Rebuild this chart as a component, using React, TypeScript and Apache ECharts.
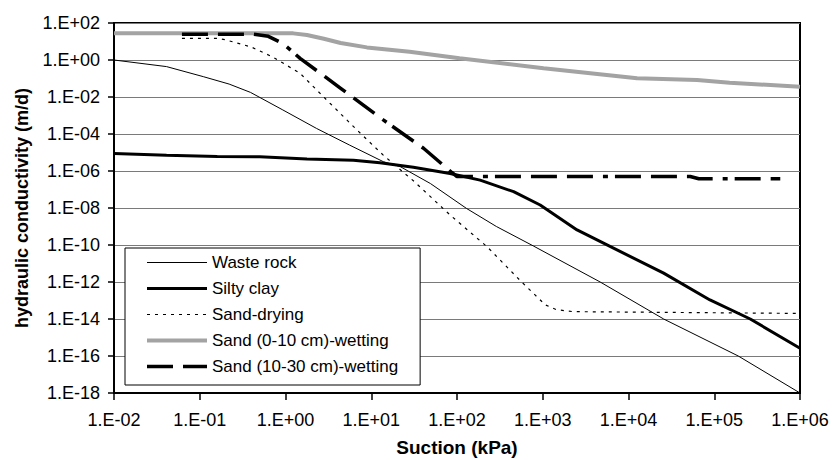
import React, { useEffect, useRef } from "react";
import * as echarts from "echarts";

// Suction (kPa) and hydraulic conductivity (m/d) for each material
const wasteRockSuction = [0.01, 0.041, 0.11, 0.22, 0.39, 0.93, 2.3, 5.6, 13.8, 21.9, 49, 129, 288, 776, 4677, 25704, 190546, 1e6];
const wasteRockK = [1, 0.44, 0.126, 0.05, 0.0178, 2.0e-3, 2.0e-4, 2.5e-5, 3.2e-6, 1.7e-6, 2.1e-7, 9.5e-9, 1.0e-9, 8.9e-11, 1.0e-12, 1.0e-14, 1.0e-16, 1.0e-18];

const siltyClaySuction = [0.01, 0.041, 0.16, 0.5, 1.78, 6.2, 12.6, 31, 83, 186, 457, 933, 2512, 25704, 89125, 263027, 1e6];
const siltyClayK = [8.9e-6, 7.2e-6, 6.0e-6, 5.9e-6, 4.5e-6, 3.8e-6, 2.8e-6, 1.6e-6, 7.4e-7, 3.2e-7, 7.6e-8, 1.45e-8, 6.5e-10, 3.0e-12, 1.07e-13, 1.0e-14, 2.6e-16];

const sandDryingSuction = [0.062, 0.166, 0.204, 0.4, 0.72, 1.48, 3.3, 6.8, 13.8, 32, 83, 224, 562, 813, 1072, 1445, 2239, 1e6];
const sandDryingK = [14.8, 14.8, 12.0, 5.0, 1.41, 0.19, 4.6e-3, 1.66e-4, 7.2e-6, 2.6e-7, 4.2e-9, 8.1e-11, 1.05e-12, 2.0e-13, 5.8e-14, 3.2e-14, 2.5e-14, 2.0e-14];

const sandTopWettingSuction = [0.01, 1.23, 1.78, 2.8, 4.4, 8.9, 28, 107, 1023, 12589, 63096, 151356, 1e6];
const sandTopWettingK = [27.5, 27.5, 22.4, 14.1, 8.3, 4.8, 2.8, 1.23, 0.355, 0.102, 0.083, 0.059, 0.036];

const sandDeepWettingSuction = [0.062, 0.42, 0.63, 0.93, 1.48, 4.4, 13.8, 40.7, 87, 100, 52481, 66069, 588844];
const sandDeepWettingK = [25, 25, 19, 7.9, 1.23, 0.0295, 5.8e-4, 1.7e-5, 8.3e-7, 5.0e-7, 5.0e-7, 3.8e-7, 3.8e-7];

const seriesNames = [
  "Waste rock",
  "Silty clay",
  "Sand-drying",
  "Sand (0-10 cm)-wetting",
  "Sand (10-30 cm)-wetting",
];

const xAxisTitle = "Suction (kPa)";
const yAxisTitle = "hydraulic conductivity (m/d)";

const FONT = "'Liberation Sans', Arial, Helvetica, sans-serif";

const pairs = (xs: number[], ys: number[]) => xs.map((x, i) => [x, ys[i]]);

// Excel-style scientific tick text, e.g. 1.E-02
const sciLabel = (v: number) => {
  const e = Math.round(Math.log10(v));
  const sign = e < 0 ? "-" : "+";
  return `1.E${sign}${String(Math.abs(e)).padStart(2, "0")}`;
};

export default function App() {
  const ref = useRef<HTMLDivElement>(null);

  useEffect(() => {
    if (!ref.current) return;
    const chart = echarts.init(ref.current, undefined, { renderer: "svg" });

    // plain line, no markers (also keeps the legend key marker-free)
    const line = (
      name: string,
      data: number[][],
      color: string,
      width: number,
      type: any
    ) => ({
      name,
      type: "line",
      data,
      symbol: "circle",
      symbolSize: 0,
      showSymbol: false,
      smooth: false,
      lineStyle: { color, width, type, cap: "butt" },
      itemStyle: { color: "rgba(0,0,0,0)", borderWidth: 0 },
      emphasis: { disabled: true },
    });

    chart.setOption({
      animation: false,
      backgroundColor: "#fff",
      textStyle: { fontFamily: FONT },
      grid: {
        left: 114,
        right: 33,
        top: 23,
        bottom: 67,
        show: true,
        borderColor: "#000",
        borderWidth: 2,
        containLabel: false,
        outerBoundsMode: "none",
      },
      legend: {
        orient: "vertical",
        left: 125,
        top: 248,
        itemWidth: 60,
        itemHeight: 14,
        itemGap: 9,
        padding: [6, 22, 10, 20],
        backgroundColor: "#fff",
        borderColor: "#000",
        borderWidth: 1,
        selectedMode: false,
        itemStyle: { opacity: 0 },
        lineStyle: { width: "inherit", type: "inherit", color: "inherit" },
        textStyle: { fontSize: 17, color: "#000", fontFamily: FONT },
        data: seriesNames,
        z: 10,
      },
      xAxis: {
        type: "log",
        logBase: 10,
        min: 0.01,
        max: 1e6,
        interval: 1,
        name: xAxisTitle,
        nameLocation: "middle",
        nameGap: 45,
        nameTextStyle: { fontSize: 19, fontWeight: "bold", color: "#000", fontFamily: FONT },
        axisLine: { show: true, lineStyle: { color: "#000", width: 2 } },
        axisTick: { show: true, inside: false, length: 7, lineStyle: { color: "#000", width: 1.5 } },
        minorTick: { show: false },
        splitLine: { show: false },
        axisLabel: { formatter: sciLabel, fontSize: 18, color: "#000", margin: 18, fontFamily: FONT },
      },
      yAxis: {
        type: "log",
        logBase: 10,
        min: 1e-18,
        max: 100,
        interval: 2,
        name: yAxisTitle,
        nameLocation: "middle",
        nameRotate: 90,
        nameGap: 83,
        nameTextStyle: { fontSize: 18, fontWeight: "bold", color: "#000", fontFamily: FONT },
        axisLine: { show: true, lineStyle: { color: "#000", width: 2 } },
        axisTick: { show: true, inside: false, length: 6, lineStyle: { color: "#000", width: 1.5 } },
        minorTick: { show: false },
        splitLine: { show: true, lineStyle: { color: "#7a7a7a", width: 1 } },
        axisLabel: { formatter: sciLabel, fontSize: 18, color: "#000", margin: 14, fontFamily: FONT },
      },
      series: [
        line(seriesNames[0], pairs(wasteRockSuction, wasteRockK), "#000", 1, "solid"),
        line(seriesNames[1], pairs(siltyClaySuction, siltyClayK), "#000", 3, "solid"),
        line(seriesNames[2], pairs(sandDryingSuction, sandDryingK), "#000", 1.2, [3, 5]),
        line(seriesNames[3], pairs(sandTopWettingSuction, sandTopWettingK), "#a3a3a3", 4, "solid"),
        line(seriesNames[4], pairs(sandDeepWettingSuction, sandDeepWettingK), "#000", 3.5, [26, 10, 26, 10, 26, 10, 5, 7]),
      ],
    });

    return () => chart.dispose();
  }, []);

  return (
    <div
      ref={ref}
      style={{ position: "fixed", left: 0, top: 0, width: 833, height: 460, background: "#fff" }}
    />
  );
}
